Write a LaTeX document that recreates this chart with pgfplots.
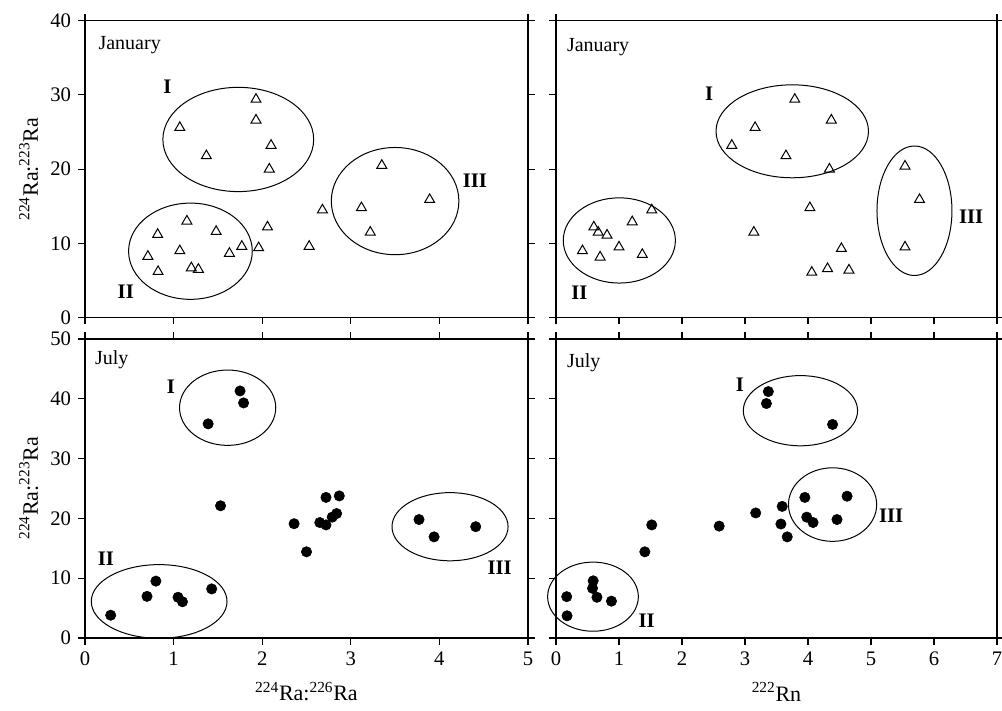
\documentclass[border=0pt]{standalone}
\usepackage{fontspec}
\setmainfont{Liberation Serif}
\usepackage{pgfplots}
\usepackage{pgfplotstable}
\pgfplotsset{compat=1.18}

\pgfplotstableread{
x y
1.93 29.4
1.93 26.6
1.07 25.6
2.10 23.2
1.37 21.8
2.08 20.0
3.35 20.5
3.89 15.9
3.12 14.8
2.68 14.5
3.22 11.5
2.06 12.2
1.15 13.0
1.48 11.6
0.82 11.2
1.07 9.0
0.71 8.25
1.63 8.65
1.77 9.6
1.96 9.4
2.53 9.6
0.825 6.2
1.20 6.7
1.28 6.5
}\JanRa

\pgfplotstableread{
x y
3.79 29.4
4.37 26.6
3.16 25.6
2.79 23.2
3.65 21.8
4.34 20.0
5.54 20.4
5.77 15.9
4.03 14.8
3.14 11.5
5.54 9.5
4.53 9.3
4.06 6.1
4.31 6.6
4.65 6.4
1.52 14.5
1.21 12.9
0.60 12.2
0.67 11.5
0.81 11.1
1.00 9.5
0.42 9.0
1.37 8.5
0.70 8.15
}\JanRn

\pgfplotstableread{
x y
1.75 41.3
1.79 39.3
1.39 35.8
1.53 22.1
2.72 23.5
2.87 23.75
2.84 20.8
2.79 20.2
2.36 19.1
2.65 19.3
2.72 18.9
2.50 14.4
3.77 19.8
3.94 16.9
4.41 18.6
0.80 9.5
0.70 6.95
1.05 6.8
1.10 6.05
1.43 8.2
0.29 3.8
}\JulRa

\pgfplotstableread{
x y
3.37 41.2
3.34 39.2
4.39 35.7
3.95 23.5
4.62 23.7
3.59 22.0
3.17 20.9
3.98 20.2
4.08 19.3
4.46 19.8
3.57 19.05
3.67 16.9
2.59 18.7
1.52 18.9
1.41 14.4
0.59 9.55
0.58 8.3
0.65 6.8
0.88 6.15
0.17 6.9
0.175 3.7
}\JulRn

\pgfplotsset{
  panel/.style={
    scale only axis,
    anchor=north west,
    clip=false,
    separate axis lines,
    axis line style={line width=0.9pt},
    every outer x axis line/.append style={shorten <=-5pt, shorten >=-5pt},
    every outer y axis line/.append style={shorten <=-5pt, shorten >=-5pt},
    tick align=outside,
    major tick length=5pt,
    tick style={line width=0.8pt, black},
    ticklabel style={font=\fontsize{15.5}{17}\selectfont},
    yticklabel style={xshift=-2pt},
    xticklabel style={yshift=-2pt},
    /pgf/number format/assume math mode=true,
    label style={font=\fontsize{16.5}{18}\selectfont},
  },
  leftp/.style={width=332.25pt, xmin=0, xmax=5, xtick={0,1,2,3,4,5}, ytick pos=both,
    ylabel={\textsuperscript{224}Ra:\textsuperscript{223}Ra},
    ylabel style={at={(axis description cs:-0.127,0.5)}, anchor=center}},
  rightp/.style={width=330.75pt, xmin=0, xmax=7, xtick={0,1,2,3,4,5,6,7}, ytick pos=left, yticklabels={}},
  topp/.style={height=222.75pt, ymin=0, ymax=40, ytick={0,10,20,30,40}, xtick pos=left, xticklabels={}},
  botp/.style={height=224.25pt, ymin=0, ymax=50, ytick={0,10,20,30,40,50}, xtick pos=both, xticklabel pos=left,
    xlabel style={at={(axis description cs:0.5,-0.18)}, anchor=center}},
  tri/.style={only marks, mark=triangle, mark size=4.3pt, black, mark options={line width=0.75pt, fill=white}},
  dot/.style={only marks, mark=*, mark size=3.9pt, black},
}
\tikzset{
  ell/.style={line width=0.75pt, black},
  rom/.style={font=\bfseries\fontsize{15.5}{17}\selectfont},
  mon/.style={anchor=west, font=\fontsize{15}{17}\selectfont},
}

\begin{document}
\begin{tikzpicture}
\useasboundingbox (-63.75pt,15.5pt) rectangle (687.75pt,-517pt);

% Top left: January, 224Ra:226Ra
\begin{axis}[panel, leftp, topp, at={(0pt,0pt)}]
\addplot[tri] table[x=x,y=y] {\JanRa};
\draw[ell] (axis cs:1.73,24.0) ellipse [x radius=0.851, y radius=7.02];
\draw[ell] (axis cs:1.19,8.95) ellipse [x radius=0.698, y radius=6.48];
\draw[ell] (axis cs:3.50,15.7) ellipse [x radius=0.72, y radius=7.22];
\node[rom] at (axis cs:0.93,31.1) {I};
\node[rom] at (axis cs:0.46,3.5) {II};
\node[rom] at (axis cs:4.40,18.4) {III};
\node[mon] at (axis cs:0.10,36.7) {January};
\end{axis}

% Top right: January, 222Rn
\begin{axis}[panel, rightp, topp, at={(353.25pt,0pt)}]
\addplot[tri] table[x=x,y=y] {\JanRn};
\draw[ell] (axis cs:3.75,25.1) ellipse [x radius=1.21, y radius=6.26];
\draw[ell] (axis cs:1.005,10.4) ellipse [x radius=0.89, y radius=5.74];
\draw[ell] (axis cs:5.69,14.4) ellipse [x radius=0.595, y radius=8.72];
\node[rom] at (axis cs:2.43,30.1) {I};
\node[rom] at (axis cs:0.37,3.3) {II};
\node[rom] at (axis cs:6.59,13.6) {III};
\node[mon] at (axis cs:0.10,36.5) {January};
\end{axis}

% Bottom left: July, 224Ra:226Ra
\begin{axis}[panel, leftp, botp, at={(0pt,-238.7pt)},
  xlabel={\textsuperscript{224}Ra:\textsuperscript{226}Ra}]
\addplot[dot] table[x=x,y=y] {\JulRa};
\draw[ell] (axis cs:1.61,38.5) ellipse [x radius=0.543, y radius=6.3];
\draw[ell] (axis cs:0.837,6.1) ellipse [x radius=0.766, y radius=6.16];
\draw[ell] (axis cs:4.12,18.6) ellipse [x radius=0.655, y radius=5.7];
\node[rom] at (axis cs:0.97,42.0) {I};
\node[rom] at (axis cs:0.235,13.3) {II};
\node[rom] at (axis cs:4.68,11.7) {III};
\node[mon] at (axis cs:0.06,46.6) {July};
\end{axis}

% Bottom right: July, 222Rn
\begin{axis}[panel, rightp, botp, at={(353.25pt,-238.7pt)},
  xlabel={\textsuperscript{222}Rn}]
\addplot[dot] table[x=x,y=y] {\JulRn};
\draw[ell] (axis cs:3.88,38.0) ellipse [x radius=0.907, y radius=5.87];
\draw[ell] (axis cs:0.587,6.9) ellipse [x radius=0.72, y radius=5.78];
\draw[ell] (axis cs:4.39,22.3) ellipse [x radius=0.70, y radius=6.15];
\node[rom] at (axis cs:2.92,42.3) {I};
\node[rom] at (axis cs:1.44,2.9) {II};
\node[rom] at (axis cs:5.32,20.5) {III};
\node[mon] at (axis cs:0.10,46.0) {July};
\end{axis}
\end{tikzpicture}
\end{document}
